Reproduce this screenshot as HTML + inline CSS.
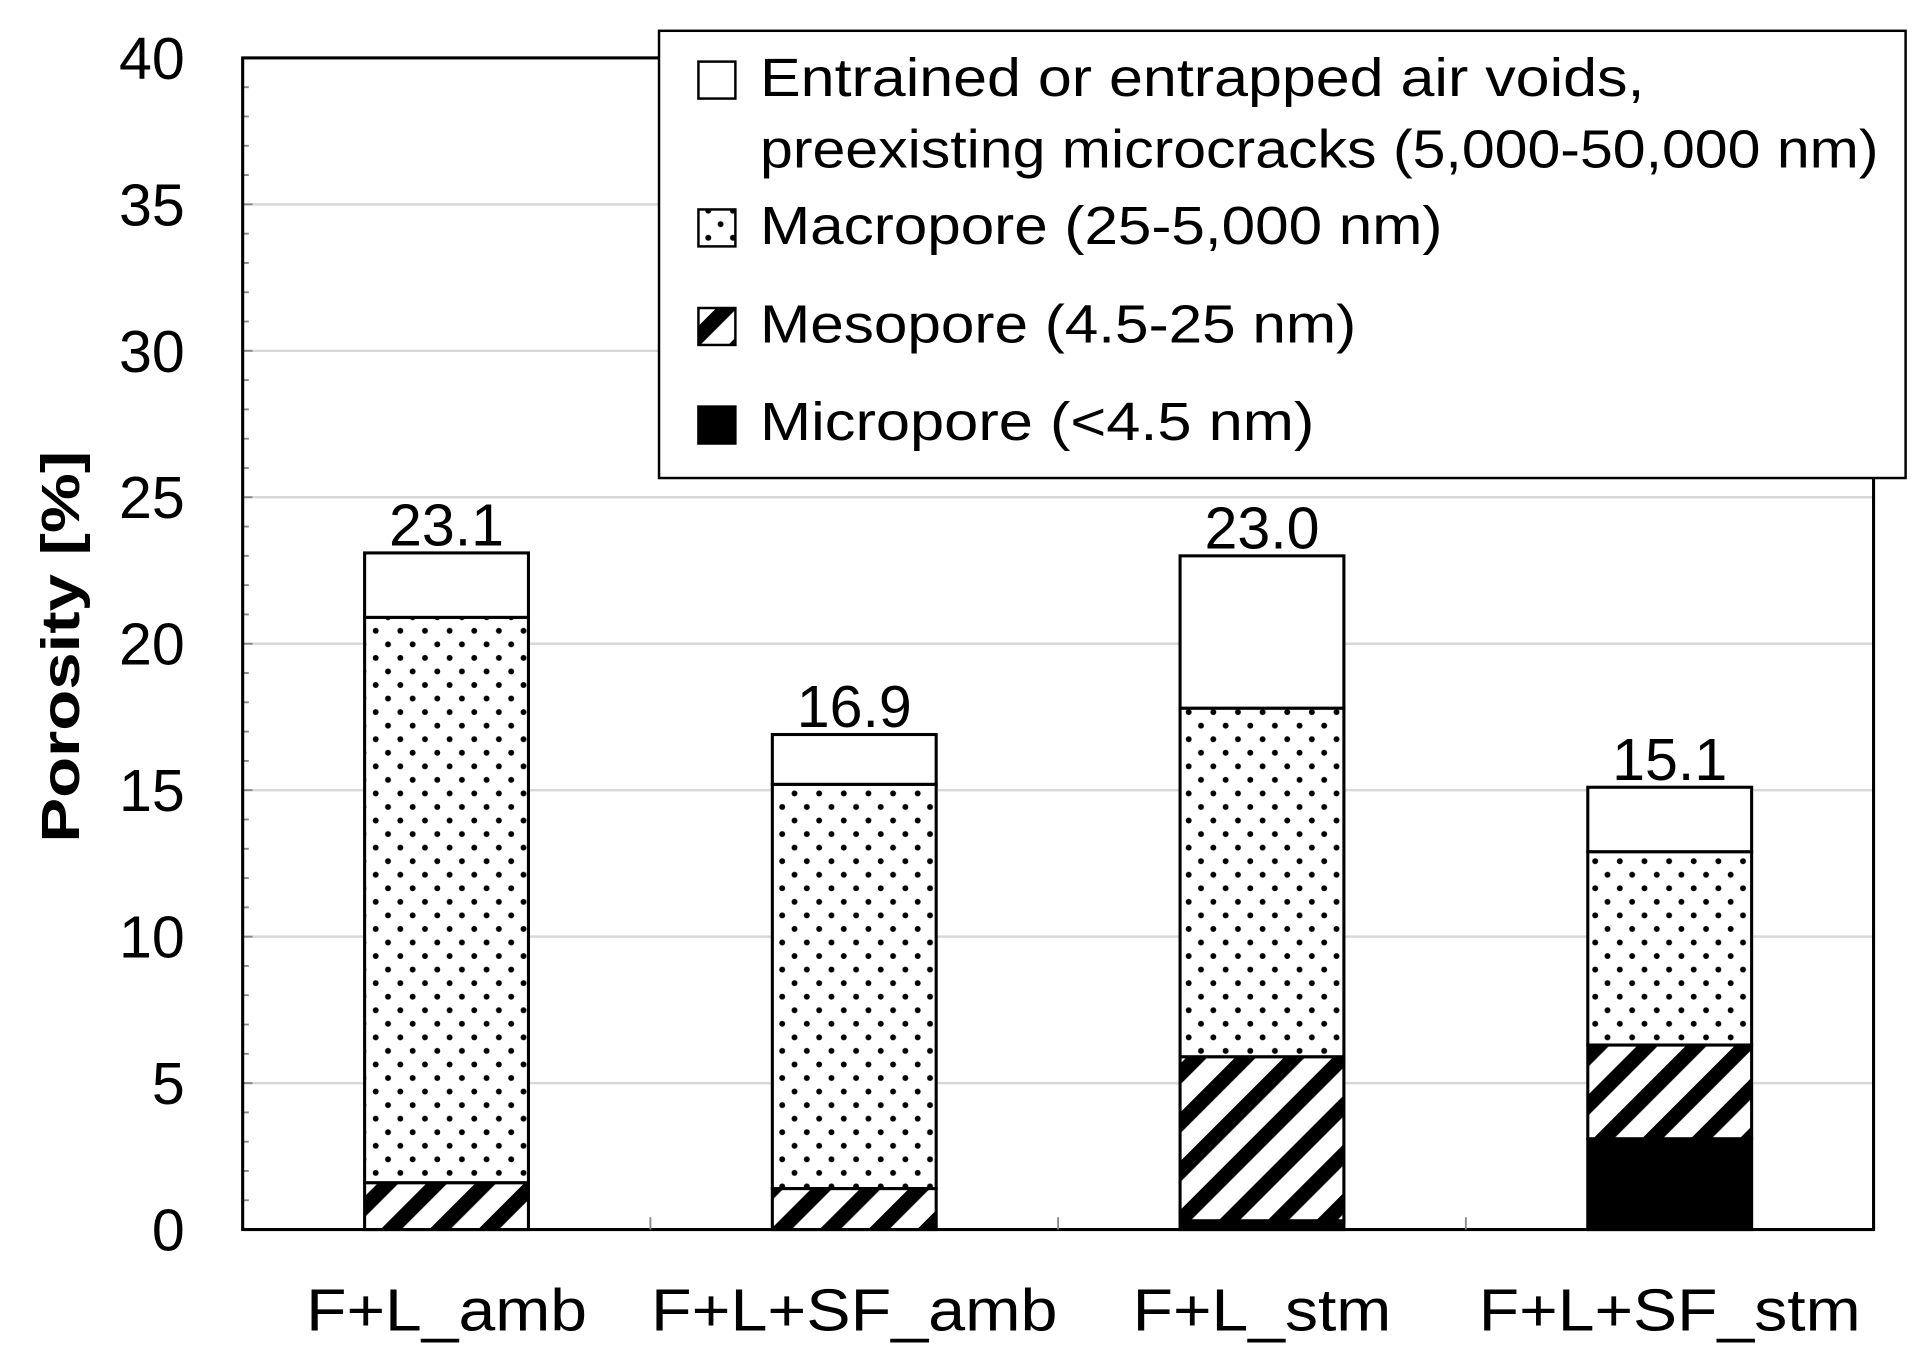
<!DOCTYPE html>
<html><head><meta charset="utf-8"><style>
html,body{margin:0;padding:0;background:#fff}
svg{display:block}
text{font-family:"Liberation Sans",sans-serif}
</style></head><body>
<svg id="chart" width="1929" height="1370" viewBox="0 0 1566 1112" preserveAspectRatio="none" xmlns="http://www.w3.org/2000/svg">
<defs>
<pattern id="dots" patternUnits="userSpaceOnUse" width="20" height="22"><rect width="20" height="22" fill="#fff"/><circle cx="5" cy="6" r="2.4" fill="#000"/><circle cx="15" cy="17" r="2.4" fill="#000"/></pattern>
<pattern id="hatch" patternUnits="userSpaceOnUse" width="28" height="28" patternTransform="rotate(45)"><rect width="28" height="28" fill="#fff"/><rect x="0" y="0" width="12" height="28" fill="#000"/></pattern>
</defs>
<g id="grid"></g>
<g id="bars"></g>
<g id="axes"></g>
<text transform="translate(64,525) rotate(-90)" text-anchor="middle" font-size="44" font-weight="bold" textLength="318" lengthAdjust="spacingAndGlyphs">Porosity [%]</text>
<g>
<rect x="535" y="25" width="1012" height="363" fill="#fff" stroke="#000" stroke-width="2"/>
<rect x="567" y="50" width="30" height="30" fill="#fff" stroke="#000" stroke-width="2"/>
<text x="617" y="78" font-size="44" textLength="718" lengthAdjust="spacingAndGlyphs">Entrained or entrapped air voids,</text>
<text x="617" y="136" font-size="44" textLength="908" lengthAdjust="spacingAndGlyphs">preexisting microcracks (5,000-50,000 nm)</text>
<rect x="567" y="170" width="30" height="30" fill="url(#dots)" stroke="#000" stroke-width="2"/>
<text x="617" y="198" font-size="44" textLength="554" lengthAdjust="spacingAndGlyphs">Macropore (25-5,000 nm)</text>
<rect x="567" y="250" width="30" height="30" fill="url(#hatch)" stroke="#000" stroke-width="2"/>
<text x="617" y="278" font-size="44" textLength="484" lengthAdjust="spacingAndGlyphs">Mesopore (4.5-25 nm)</text>
<rect x="567" y="330" width="30" height="30" fill="#000" stroke="#000" stroke-width="2"/>
<text x="617" y="357" font-size="44" textLength="450" lengthAdjust="spacingAndGlyphs">Micropore (&lt;4.5 nm)</text>
</g>
</svg>
<script>
const categories = ["F+L_amb","F+L+SF_amb","F+L_stm","F+L+SF_stm"];
const micro = [0, 0, 0.3, 3.1];
const meso = [1.6, 1.4, 5.6, 3.2];
const macro = [19.3, 13.8, 11.9, 6.6];
const air = [2.2, 1.7, 5.2, 2.2];
const totalLabels = ["23.1","16.9","23.0","15.1"];
const yTicks = [0,5,10,15,20,25,30,35,40];

const NS="http://www.w3.org/2000/svg";
const L=197,R=1521,T=47,B=998,yMax=40;
const y=v=>B-(v/yMax)*(B-T);
const band=(R-L)/categories.length;
const xc=i=>L+band*(i+0.5);
const bw=133;
function mk(tag,attrs,parent){const e=document.createElementNS(NS,tag);for(const k in attrs)e.setAttribute(k,attrs[k]);parent.appendChild(e);return e;}
const grid=document.getElementById('grid'),bars=document.getElementById('bars'),axes=document.getElementById('axes');
yTicks.forEach(t=>{
  if(t>0&&t<yMax){const g=mk('line',{x1:L,x2:R,y1:y(t),y2:y(t),stroke:'#d8d8d8','stroke-width':2},grid);
  
  }
  const tx=mk('text',{x:150,y:y(t)+17,'text-anchor':'end','font-size':48},axes);
  tx.textContent=t;
  
  
});
for(let v=0;v<=yMax;v++){
  const m=mk('line',{x1:L,x2:L+(v%5===0?8:5),y1:y(v),y2:y(v),stroke:'#888','stroke-width':1.5},axes);
  
  
}
const frame=mk('rect',{x:L,y:T,width:R-L,height:B-T,fill:'none',stroke:'#000','stroke-width':2.5},axes);


for(let i=1;i<categories.length;i++){
  const tk=mk('line',{x1:L+band*i,x2:L+band*i,y1:B,y2:B-10,stroke:'#888','stroke-width':1.5},axes);
  
  
}
const catW=[228,330,210,310];
const series=[[micro,'#000','micro'],[meso,'url(#hatch)','meso'],[macro,'url(#dots)','macro'],[air,'#fff','air']];
categories.forEach((c,i)=>{
  let base=0;
  series.forEach(([arr,fill,nm])=>{
    const v=arr[i];
    if(v>0){
      const r=mk('rect',{x:xc(i)-bw/2,y:y(base+v),width:bw,height:y(base)-y(base+v),fill:fill,stroke:'#000','stroke-width':2.5},bars);
      
      
    }
    base+=v;
  });
  const lb=mk('text',{x:xc(i),y:y(base)-6,'text-anchor':'middle','font-size':48},bars);
  lb.textContent=totalLabels[i];
  
  
  const cl=mk('text',{x:xc(i),y:1080,'text-anchor':'middle','font-size':48,textLength:catW[i],lengthAdjust:'spacingAndGlyphs'},axes);
  cl.textContent=c;
  
  
});
</script>
</body></html>
